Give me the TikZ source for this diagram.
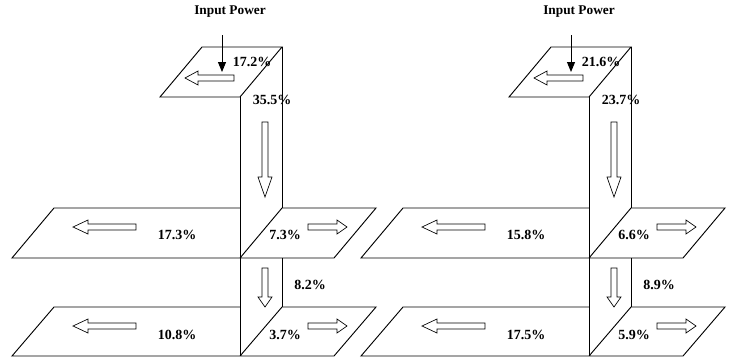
\documentclass[tikz,border=0pt]{standalone}
\usepackage{fontspec}
\setmainfont{Liberation Serif}
\usetikzlibrary{arrows.meta}

\begin{document}
\begin{tikzpicture}[
    x=0.75pt, y=-0.75pt,
    % estilos
    edge/.style={line width=0.7pt, line join=miter},
    pct/.style={font=\fontsize{10.5}{12}\selectfont\bfseries, inner sep=0pt},
    title/.style={font=\fontsize{10}{12}\selectfont\bfseries, inner sep=0pt},
    feed/.style={line width=0.7pt, -{Triangle[width=6pt, length=7.5pt]}},
    pics/hollowarrow/.style 2 args={code={
        \draw[line width=0.5pt, fill=white] (0,-3) -- (#1-#2,-3) -- (#1-#2,-7) -- (#1,0)
            -- (#1-#2,7) -- (#1-#2,3) -- (0,3) -- cycle;}}
]
\useasboundingbox (0,0) rectangle (731,362);

\foreach \dx/\i/\ta/\tb/\tc/\td/\te/\tf/\tg in
    {0/L/17.2/35.5/17.3/7.3/8.2/10.8/3.7, 349/R/21.6/23.7/15.8/6.6/8.9/17.5/5.9}{
\begin{scope}[shift={(\dx,0)}]
% Plano superior y columna
\draw[edge] (202,47) -- (282,47) -- (240,97) -- (160,97) -- cycle;
\draw[edge] (240,97) -- (240,356);
\draw[edge] (282,47) -- (282,208);
\draw[edge] (282,258) -- (282,307);

% Plano medio
\draw[edge] (240,208) -- (54,208) -- (12,258) -- (334,258) -- (376,208) -- (282,208) -- (240,258);
% Plano inferior
\draw[edge] (240,307) -- (54,307) -- (12,356) -- (334,356) -- (376,307) -- (282,307) -- (240,356);

% Entrada
\node[title] (in\i) at (230,12) {Input Power};
\coordinate (src\i) at (222,35);
\coordinate (dst\i) at (222,72);
\draw[feed] (src\i) -- (dst\i);

% Flechas huecas
\pic[rotate=180] at (234,78) {hollowarrow={49}{13}};
\pic[rotate=-90] at (265,122) {hollowarrow={75}{20}};
\pic[rotate=180] at (136,227) {hollowarrow={63}{15}};
\pic at (308,227) {hollowarrow={39}{10}};
\pic[rotate=-90] at (265,268) {hollowarrow={39}{10}};
\pic[rotate=180] at (136,326) {hollowarrow={63}{15}};
\pic at (308,326) {hollowarrow={39}{10}};

% Porcentajes
\node[pct] (top\i) at (252,62) {\ta\%};
\node[pct] (col\i) at (272,100) {\tb\%};
\node[pct] (midl\i) at (177,235) {\tc\%};
\node[pct] (midr\i) at (285,235) {\td\%};
\node[pct] (low\i) at (310,285) {\te\%};
\node[pct] (botl\i) at (177,335) {\tf\%};
\node[pct] (botr\i) at (285,335) {\tg\%};
\end{scope}}

\end{tikzpicture}
\end{document}
